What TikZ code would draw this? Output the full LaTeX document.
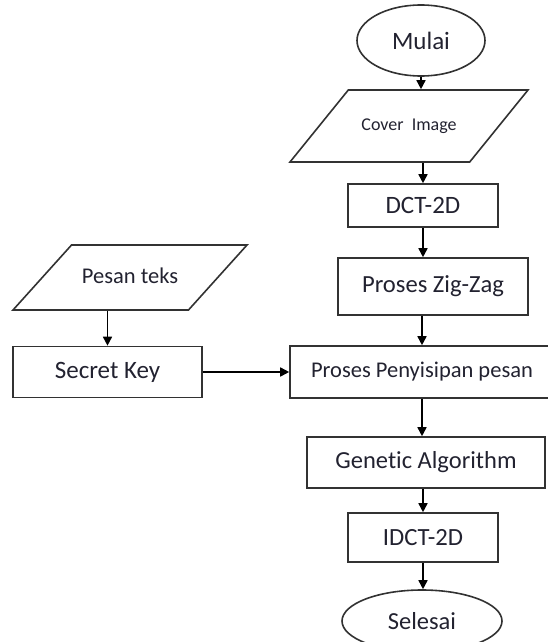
\documentclass[tikz,border=0pt]{standalone}
\usepackage{fontspec}
\setmainfont{Carlito}[Ligatures=NoCommon]
\usetikzlibrary{shapes.geometric,arrows.meta}
\definecolor{txt}{RGB}{34,34,48}
\definecolor{ln}{RGB}{50,50,50}

\begin{document}
\begin{tikzpicture}[x=1pt, y=-1pt,
		box/.style={draw=ln, line width=1.6pt, rectangle, text=txt, inner sep=0pt},
		io/.style={draw=ln, line width=1.6pt, trapezium, trapezium stretches body, text=txt, inner xsep=0pt},
		term/.style={draw=ln, line width=1.6pt, ellipse, text=txt, inner sep=0pt},
		arr/.style={draw=black, line width=1.6pt, -{Triangle[length=9pt, width=9pt]}}]
			\useasboundingbox (0, 0) rectangle (548, 642);
			\clip (0, 0) rectangle (548, 642);

			\draw (421, 40.5) 	node[term, minimum width=128, minimum height=71, font=\fontsize{25}{30}\selectfont] 	(mulai) 	{Mulai};
			\draw (409, 126) 	node[io, minimum width=238, text height=12, text depth=4, inner ysep=28, trapezium left angle=51, trapezium right angle=129, font=\fontsize{18}{22}\selectfont] 	(cover) 	{Cover\ \ Image\hspace{14pt}};
			\draw (423, 205.5) 	node[box, minimum width=150, minimum height=43, font=\fontsize{25}{30}\selectfont] 	(dct) 		{DCT-2D};
			\draw (433, 286.5) 	node[box, minimum width=190, minimum height=57, font=\fontsize{24.6}{30}\selectfont] 	(zigzag) 	{Proses Zig-Zag};
			\draw (130, 277.5) 	node[io, minimum width=234, text height=16, text depth=5, inner ysep=22, trapezium left angle=48, trapezium right angle=132, font=\fontsize{22.5}{27}\selectfont] 	(pesan) 	{Pesan teks};
			\draw (107.5, 372) 	node[box, minimum width=189, minimum height=51, font=\fontsize{25}{30}\selectfont] 	(key) 		{Secret Key};
			\draw (422, 372) 	node[box, minimum width=264, minimum height=52, font=\fontsize{22.5}{27}\selectfont] 	(sisip) 	{Proses Penyisipan pesan};
			\draw (426, 462.5) 	node[box, minimum width=238, minimum height=51, font=\fontsize{24.5}{30}\selectfont] 	(genetic) 	{Genetic Algorithm};
			\draw (423, 537.5) 	node[box, minimum width=150, minimum height=49, font=\fontsize{24.7}{30}\selectfont] 	(idct) 		{IDCT-2D};
			\draw (422, 621) 	node[term, minimum width=160, minimum height=62, font=\fontsize{24.5}{30}\selectfont] 	(selesai) 	{Selesai};

			\draw[arr] (mulai) -- (mulai |- cover.north);
			\draw[arr] (dct |- cover.south) -- (dct);
			\draw[arr] (dct) -- (dct |- zigzag.north);
			\draw[arr] (sisip |- zigzag.south) -- (sisip);
			\draw[arr] (key |- pesan.south) -- (key);
			\draw[arr] (key) -- (sisip);
			\draw[arr] (sisip) -- (sisip |- genetic.north);
			\draw[arr] (idct |- genetic.south) -- (idct);
			\draw[arr] (idct) -- (idct |- selesai.north);
		\end{tikzpicture}
\end{document}
